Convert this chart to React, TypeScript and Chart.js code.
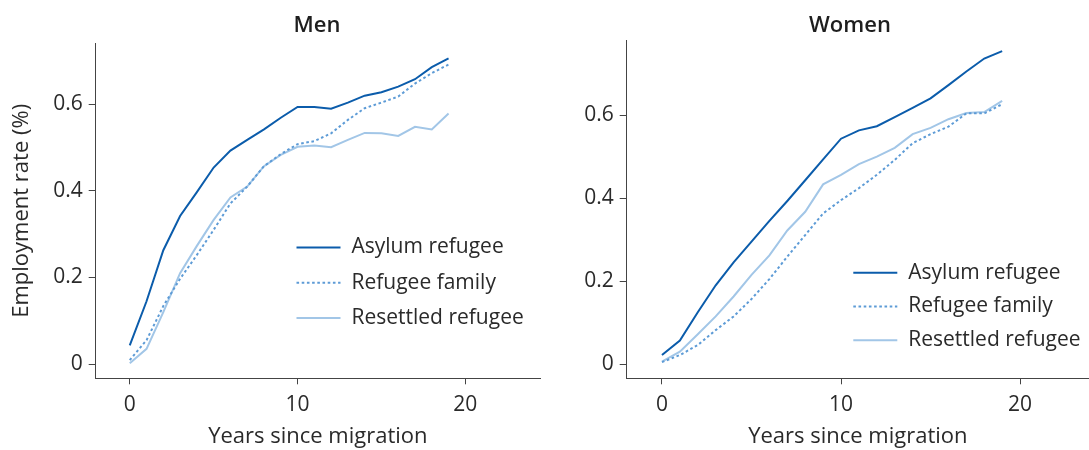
import React, { useEffect, useRef } from "react";
import { Chart, registerables } from "chart.js";

Chart.register(...registerables);

// ---- data ----
const years = [0, 1, 2, 3, 4, 5, 6, 7, 8, 9, 10, 11, 12, 13, 14, 15, 16, 17, 18, 19];
const seriesLabels = ["Asylum refugee", "Refugee family", "Resettled refugee"];

const menAsylum = [0.043, 0.145, 0.263, 0.342, 0.397, 0.454, 0.493, 0.518, 0.542, 0.569, 0.594, 0.594, 0.590, 0.604, 0.620, 0.628, 0.641, 0.658, 0.686, 0.706];
const menFamily = [0.009, 0.055, 0.134, 0.197, 0.252, 0.310, 0.371, 0.410, 0.457, 0.485, 0.508, 0.515, 0.533, 0.564, 0.591, 0.604, 0.618, 0.648, 0.672, 0.692];
const menResettled = [0.002, 0.035, 0.120, 0.210, 0.273, 0.333, 0.385, 0.410, 0.457, 0.483, 0.502, 0.505, 0.501, 0.518, 0.534, 0.533, 0.527, 0.548, 0.542, 0.579];

const womenAsylum = [0.022, 0.057, 0.125, 0.190, 0.245, 0.295, 0.345, 0.393, 0.443, 0.493, 0.543, 0.563, 0.573, 0.595, 0.617, 0.640, 0.672, 0.705, 0.736, 0.754];
const womenFamily = [0.005, 0.022, 0.046, 0.082, 0.115, 0.157, 0.205, 0.259, 0.311, 0.363, 0.395, 0.424, 0.456, 0.492, 0.532, 0.554, 0.572, 0.604, 0.604, 0.626];
const womenResettled = [0.006, 0.030, 0.072, 0.115, 0.163, 0.215, 0.262, 0.322, 0.367, 0.433, 0.456, 0.482, 0.500, 0.521, 0.554, 0.569, 0.590, 0.605, 0.607, 0.634];

const yTicks = [0, 0.2, 0.4, 0.6];
const xTicks = [0, 10, 20];

// ---- style ----
const FONT = "'Open Sans', 'Noto Sans', sans-serif";
const TEXT = "#2a2a2a";
const AXIS = "#444444";
const COLORS = ["#0b5cab", "#5d9bd6", "#a2c6e7"];
const DASHES: number[][] = [[], [2.6, 2.6], []];

const overlayPlugin = {
  id: "overlay",
  afterDraw(chart: any, _args: any, opts: any) {
    const { ctx } = chart;
    ctx.save();
    ctx.fillStyle = "#1e1e1e";
    ctx.font = `600 ${opts.titleSize}px ${FONT}`;
    ctx.textAlign = "center";
    ctx.textBaseline = "alphabetic";
    ctx.fillText(opts.title, opts.titleX, opts.titleY);
    chart.data.datasets.forEach((ds: any, i: number) => {
      const y = opts.legendY + i * opts.legendGap;
      ctx.beginPath();
      ctx.setLineDash(ds.borderDash || []);
      ctx.strokeStyle = ds.borderColor;
      ctx.lineWidth = ds.borderWidth;
      ctx.moveTo(opts.legendX, y);
      ctx.lineTo(opts.legendX + 44, y);
      ctx.stroke();
      ctx.setLineDash([]);
      ctx.fillStyle = TEXT;
      ctx.font = `21px ${FONT}`;
      ctx.textAlign = "left";
      ctx.textBaseline = "middle";
      ctx.fillText(ds.label, opts.legendX + 55, y);
    });
    ctx.restore();
  },
};

type PanelProps = {
  series: number[][];
  title: string;
  showYTitle: boolean;
  xMin: number;
  xMax: number;
  yMin: number;
  yMax: number;
  yAxisWidth: number;
  padTop: number;
  padRight: number;
  overlay: any;
  width: number;
};

function Panel(props: PanelProps) {
  const ref = useRef<HTMLCanvasElement>(null);
  useEffect(() => {
    if (!ref.current) return;
    const datasets = props.series.map((vals, i) => ({
      label: seriesLabels[i],
      data: years.map((x, j) => ({ x, y: vals[j] })),
      borderColor: COLORS[i],
      backgroundColor: COLORS[i],
      borderWidth: 2,
      borderDash: DASHES[i],
      pointRadius: 0,
      tension: 0,
      fill: false,
    }));
    const chart = new Chart(ref.current, {
      type: "line",
      data: { datasets },
      plugins: [overlayPlugin],
      options: {
        responsive: false,
        animation: false,
        devicePixelRatio: 1,
        layout: { padding: { top: props.padTop, right: props.padRight, left: 0, bottom: 0 } },
        plugins: {
          legend: { display: false },
          title: { display: false },
          tooltip: { enabled: false },
          overlay: { ...props.overlay, title: props.title },
        } as any,
        scales: {
          x: {
            type: "linear",
            min: props.xMin,
            max: props.xMax,
            afterBuildTicks: (s: any) => {
              s.ticks = xTicks.map((v) => ({ value: v }));
            },
            afterFit: (s: any) => {
              s.height = 450 - 378.3;
            },
            grid: { display: true, drawOnChartArea: false, drawTicks: true, tickLength: 6, color: AXIS, lineWidth: 1 },
            border: { display: true, color: AXIS, width: 1 },
            ticks: {
              color: TEXT,
              font: { family: FONT, size: 21 },
              padding: 8,
              maxRotation: 0,
              callback: (v: any) => String(v),
            },
            title: {
              display: true,
              text: "Years since migration",
              color: TEXT,
              font: { family: FONT, size: 22 },
              padding: { top: 0, bottom: 0 },
            },
          },
          y: {
            type: "linear",
            min: props.yMin,
            max: props.yMax,
            afterBuildTicks: (s: any) => {
              s.ticks = yTicks.map((v) => ({ value: v }));
            },
            afterFit: (s: any) => {
              s.width = props.yAxisWidth;
            },
            grid: { display: true, drawOnChartArea: false, drawTicks: true, tickLength: 7, color: AXIS, lineWidth: 1 },
            border: { display: true, color: AXIS, width: 1 },
            ticks: {
              color: TEXT,
              font: { family: FONT, size: 21 },
              padding: 6,
              callback: (v: any) => (v === 0 ? "0" : Number(v).toFixed(1)),
            },
            title: {
              display: props.showYTitle,
              text: "Employment rate (%)",
              color: TEXT,
              font: { family: FONT, size: 22 },
              padding: { top: 9, bottom: 0 },
            },
          },
        },
      } as any,
    });
    return () => chart.destroy();
  }, []);
  return <canvas ref={ref} width={props.width} height={450} style={{ display: "block" }} />;
}

export default function App() {
  return (
    <div style={{ position: "absolute", left: 0, top: 0, width: 1089, height: 450, background: "#fff", overflow: "hidden" }}>
      <div style={{ position: "absolute", left: 0, top: 0 }}>
        <Panel
          series={[menAsylum, menFamily, menResettled]}
          title="Men"
          showYTitle={true}
          xMin={-2.03}
          xMax={24.45}
          yMin={-0.033}
          yMax={0.741}
          yAxisWidth={95.7}
          padTop={43.3}
          padRight={5}
          width={545}
          overlay={{ titleX: 317, titleY: 32, titleSize: 22, legendX: 296.5, legendY: 247.5, legendGap: 35.3 }}
        />
      </div>
      <div style={{ position: "absolute", left: 545, top: 0 }}>
        <Panel
          series={[womenAsylum, womenFamily, womenResettled]}
          title="Women"
          showYTitle={false}
          xMin={-1.97}
          xMax={23.85}
          yMin={-0.034}
          yMax={0.779}
          yAxisWidth={81.7}
          padTop={40.7}
          padRight={0}
          width={544}
          overlay={{ titleX: 305, titleY: 32, titleSize: 22, legendX: 308.3, legendY: 272.7, legendGap: 33.8 }}
        />
      </div>
    </div>
  );
}
